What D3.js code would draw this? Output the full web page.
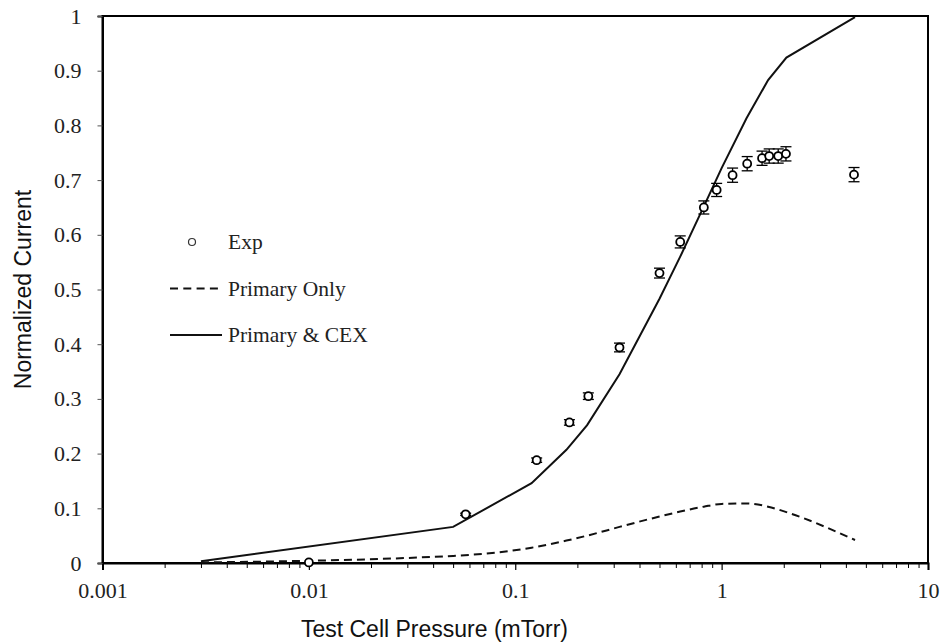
<!DOCTYPE html>
<html>
<head>
<meta charset="utf-8">
<script src="https://cdn.jsdelivr.net/npm/d3@7"></script>
<style>
  body { margin: 0; background: #fff; }
  svg { display: block; }
</style>
</head>
<body>
<div id="chart"></div>
<script>
// experimental points (pressure in mTorr, normalized current, error)
const expPressure = [0.01, 0.0575, 0.127, 0.183, 0.226, 0.32, 0.50, 0.63, 0.82, 0.946, 1.13, 1.33, 1.57, 1.70, 1.88, 2.05, 4.38];
const expCurrent  = [0.001, 0.089, 0.188, 0.257, 0.305, 0.394, 0.530, 0.587, 0.650, 0.682, 0.709, 0.730, 0.740, 0.744, 0.744, 0.748, 0.710];
const expError    = [0.0, 0.002, 0.004, 0.005, 0.006, 0.008, 0.009, 0.011, 0.012, 0.012, 0.013, 0.013, 0.013, 0.013, 0.013, 0.013, 0.013];

// model curves
const modelPressure = [0.003, 0.05, 0.12, 0.177, 0.223, 0.32, 0.5, 0.63, 0.82, 1.0, 1.32, 1.68, 2.06, 4.43];
const primaryOnly   = [0.001, 0.013, 0.028, 0.041, 0.050, 0.066, 0.085, 0.094, 0.103, 0.108, 0.109, 0.103, 0.093, 0.042];
const primaryCex    = [0.003, 0.066, 0.146, 0.207, 0.252, 0.345, 0.483, 0.560, 0.652, 0.722, 0.813, 0.883, 0.924, 0.998];

const xTickValues = [0.001, 0.01, 0.1, 1, 10];
const xTickLabels = ["0.001", "0.01", "0.1", "1", "10"];
const yTickValues = [0, 0.1, 0.2, 0.3, 0.4, 0.5, 0.6, 0.7, 0.8, 0.9, 1];
const yTickLabels = ["0", "0.1", "0.2", "0.3", "0.4", "0.5", "0.6", "0.7", "0.8", "0.9", "1"];

const legendItems = ["Exp", "Primary Only", "Primary & CEX"];

const width = 943, height = 644;
const margin = { top: 16, right: 15, bottom: 81, left: 102.5 };
const plotW = width - margin.left - margin.right,
  plotH = height - margin.top - margin.bottom;

const serif = "'Liberation Serif', 'Times New Roman', serif";
const sans = "'Liberation Sans', Arial, sans-serif";

const svg = d3.select("#chart")
  .append("svg")
  .attr("width", width)
  .attr("height", height);

const g = svg.append("g")
  .attr("transform", `translate(${margin.left}, ${margin.top})`);

const x = d3.scaleLog()
  .domain([0.001, 10])
  .range([0, plotW]);

const y = d3.scaleLinear()
  .domain([0, 1])
  .range([plotH, 0]);

// minor ticks 2..9 of each decade
let minorTicks = [];
for (let d = 0.001; d < 10; d *= 10) {
  for (let k = 2; k <= 9; k++) minorTicks.push(d * k);
}

// frame (top and right edges)
g.append("rect")
  .attr("x", 0).attr("y", 0)
  .attr("width", plotW).attr("height", plotH)
  .attr("fill", "none")
  .attr("stroke", "#000")
  .attr("stroke-width", 2);

// minor x ticks
g.append("g")
  .attr("transform", `translate(0, ${plotH})`)
  .call(d3.axisBottom(x).tickValues(minorTicks).tickSize(5).tickFormat(""))
  .call(a => a.select(".domain").remove())
  .call(a => a.selectAll("line").attr("stroke", "#000").attr("stroke-width", 1));

// major x ticks
g.append("g")
  .attr("transform", `translate(0, ${plotH})`)
  .call(d3.axisBottom(x).tickValues(xTickValues).tickSize(7).tickPadding(12)
    .tickFormat((d, i) => xTickLabels[i]))
  .call(a => a.select(".domain").attr("stroke-width", 2))
  .call(a => a.selectAll("line").attr("stroke-width", 1.2))
  .call(a => a.selectAll("text")
    .attr("font-family", serif)
    .attr("font-size", 22)
    .attr("fill", "#222"));

// y axis
g.append("g")
  .call(d3.axisLeft(y).tickValues(yTickValues).tickSize(5).tickPadding(16)
    .tickFormat((d, i) => yTickLabels[i]))
  .call(a => a.select(".domain").attr("stroke-width", 2))
  .call(a => a.selectAll("line").attr("stroke", "#555"))
  .call(a => a.selectAll("text")
    .attr("font-family", serif)
    .attr("font-size", 22)
    .attr("fill", "#222"));

// axis titles
svg.append("text")
  .attr("x", 434.5)
  .attr("y", 637)
  .attr("text-anchor", "middle")
  .attr("font-family", sans)
  .attr("font-size", 23)
  .attr("fill", "#111")
  .text("Test Cell Pressure (mTorr)");

svg.append("text")
  .attr("transform", `translate(31, ${margin.top + plotH / 2}) rotate(-90)`)
  .attr("text-anchor", "middle")
  .attr("font-family", sans)
  .attr("font-size", 23)
  .attr("fill", "#111")
  .text("Normalized Current");

// model lines
const dashedLine = d3.line()
  .curve(d3.curveMonotoneX)
  .x((d, i) => x(modelPressure[i]))
  .y(d => y(d));

const solidLine = d3.line()
  .x((d, i) => x(modelPressure[i]))
  .y(d => y(d));

g.append("path")
  .datum(primaryOnly)
  .attr("fill", "none")
  .attr("stroke", "#111")
  .attr("stroke-width", 2)
  .attr("stroke-dasharray", "8,5")
  .attr("d", dashedLine);

g.append("path")
  .datum(primaryCex)
  .attr("fill", "none")
  .attr("stroke", "#111")
  .attr("stroke-width", 2)
  .attr("d", solidLine);

// error bars
const exp = expPressure.map((p, i) => ({ p: p, v: expCurrent[i], e: expError[i] }));
const bars = g.selectAll(".err")
  .data(exp.filter(d => d.e > 0))
  .join("g")
  .attr("class", "err")
  .attr("stroke", "#000")
  .attr("stroke-width", 1.3);
bars.append("line")
  .attr("x1", d => x(d.p)).attr("x2", d => x(d.p))
  .attr("y1", d => y(d.v - d.e)).attr("y2", d => y(d.v + d.e));
bars.append("line")
  .attr("x1", d => x(d.p) - 5.5).attr("x2", d => x(d.p) + 5.5)
  .attr("y1", d => y(d.v + d.e)).attr("y2", d => y(d.v + d.e));
bars.append("line")
  .attr("x1", d => x(d.p) - 5.5).attr("x2", d => x(d.p) + 5.5)
  .attr("y1", d => y(d.v - d.e)).attr("y2", d => y(d.v - d.e));

// exp markers
g.selectAll(".pt")
  .data(exp)
  .join("circle")
  .attr("class", "pt")
  .attr("cx", d => x(d.p))
  .attr("cy", d => y(d.v))
  .attr("r", 4)
  .attr("fill", "#fff")
  .attr("stroke", "#000")
  .attr("stroke-width", 1.8);

// legend
const legend = svg.append("g").attr("transform", "translate(170, 242)");
const rowGap = 46.5;

legend.append("circle")
  .attr("cx", 22).attr("cy", 0).attr("r", 3.5)
  .attr("fill", "#fff").attr("stroke", "#333").attr("stroke-width", 1.2);

legend.append("line")
  .attr("x1", 0).attr("x2", 48)
  .attr("y1", rowGap).attr("y2", rowGap)
  .attr("stroke", "#111").attr("stroke-width", 2)
  .attr("stroke-dasharray", "8,5.3");

legend.append("line")
  .attr("x1", 0).attr("x2", 52)
  .attr("y1", rowGap * 2).attr("y2", rowGap * 2)
  .attr("stroke", "#111").attr("stroke-width", 2);

legend.selectAll(".lt")
  .data(legendItems)
  .join("text")
  .attr("class", "lt")
  .attr("x", 58)
  .attr("y", (d, i) => i * rowGap + 7)
  .attr("font-family", serif)
  .attr("font-size", 21.5)
  .attr("fill", "#222")
  .text(d => d);
</script>
</body>
</html>
